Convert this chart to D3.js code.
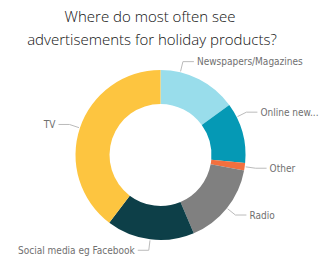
<!DOCTYPE html>
<html lang="en">
  <head>
    <meta charset="UTF-8" />
    <script src="https://d3js.org/d3.v7.min.js"></script>
    <style>
      body { margin: 0; background: #fff; }
      .title { font-family: 'Open Sans', sans-serif; font-size: 15px; font-weight: 300; fill: #111; }
      .lbl { font-family: 'DejaVu Sans Condensed', sans-serif; font-size: 10px; fill: #6f6f6f; }
      .leader { stroke: #bbb; fill: none; stroke-width: 1; }
    </style>
  </head>
  <body>
    <script>
      const width = 324
      const height = 270

      // data (percent of respondents)
      const categories = ['Newspapers/Magazines', 'Online news', 'Other', 'Radio', 'Social media eg Facebook', 'TV']
      const labels = ['Newspapers/Magazines', 'Online new...', 'Other', 'Radio', 'Social media eg Facebook', 'TV']
      const values = [15.0, 11.5, 1.4, 15.7, 16.7, 39.7]
      const colors = ['#99DDEB', '#0599B5', '#F2703F', '#808080', '#0D3F48', '#FDC540']

      // labels Power BI nudged away from the slice middle (degrees)
      const labelAngle = { 'Newspapers/Magazines': 13.5, 'Online news': 63.5 }

      const cx = 160.5, cy = 155, outerR = 85, innerR = 51

      const svg = d3.select('body')
        .append('svg')
        .attr('width', width)
        .attr('height', height)

      svg.append('text').attr('class', 'title')
        .attr('x', 150).attr('y', 22).attr('text-anchor', 'middle')
        .text('Where do most often see')
      svg.append('text').attr('class', 'title')
        .attr('x', 152).attr('y', 45).attr('text-anchor', 'middle')
        .text('advertisements for holiday products?')

      const color = d3.scaleOrdinal().domain(categories).range(colors)
      const pie = d3.pie().sort(null).value(d => d.value)
      const arc = d3.arc().innerRadius(innerR).outerRadius(outerR)

      const data = categories.map((c, i) => ({ name: c, label: labels[i], value: values[i] }))
      const arcs = pie(data)

      const g = svg.append('g').attr('transform', `translate(${cx},${cy})`)

      g.selectAll('path.slice')
        .data(arcs)
        .join('path')
        .attr('class', 'slice')
        .attr('d', arc)
        .attr('fill', d => color(d.data.name))

      const pt = (a, r) => [Math.sin(a) * r, -Math.cos(a) * r]

      arcs.forEach(d => {
        const mid = (d.startAngle + d.endAngle) / 2
        const a = labelAngle[d.data.name] != null ? labelAngle[d.data.name] * Math.PI / 180 : mid
        const p0 = pt(a, outerR + 1)
        const p1 = pt(a, 96)
        const right = Math.sin(a) > 0
        const p2 = [p1[0] + (right ? 11 : -11), p1[1]]
        g.append('polyline').attr('class', 'leader')
          .attr('points', [p0, p1, p2].map(p => p.join(',')).join(' '))
        g.append('text').attr('class', 'lbl')
          .attr('x', p2[0] + (right ? 3 : -3))
          .attr('y', p2[1])
          .attr('dy', '0.35em')
          .attr('text-anchor', right ? 'start' : 'end')
          .text(d.data.label)
      })
    </script>
  </body>
</html>
